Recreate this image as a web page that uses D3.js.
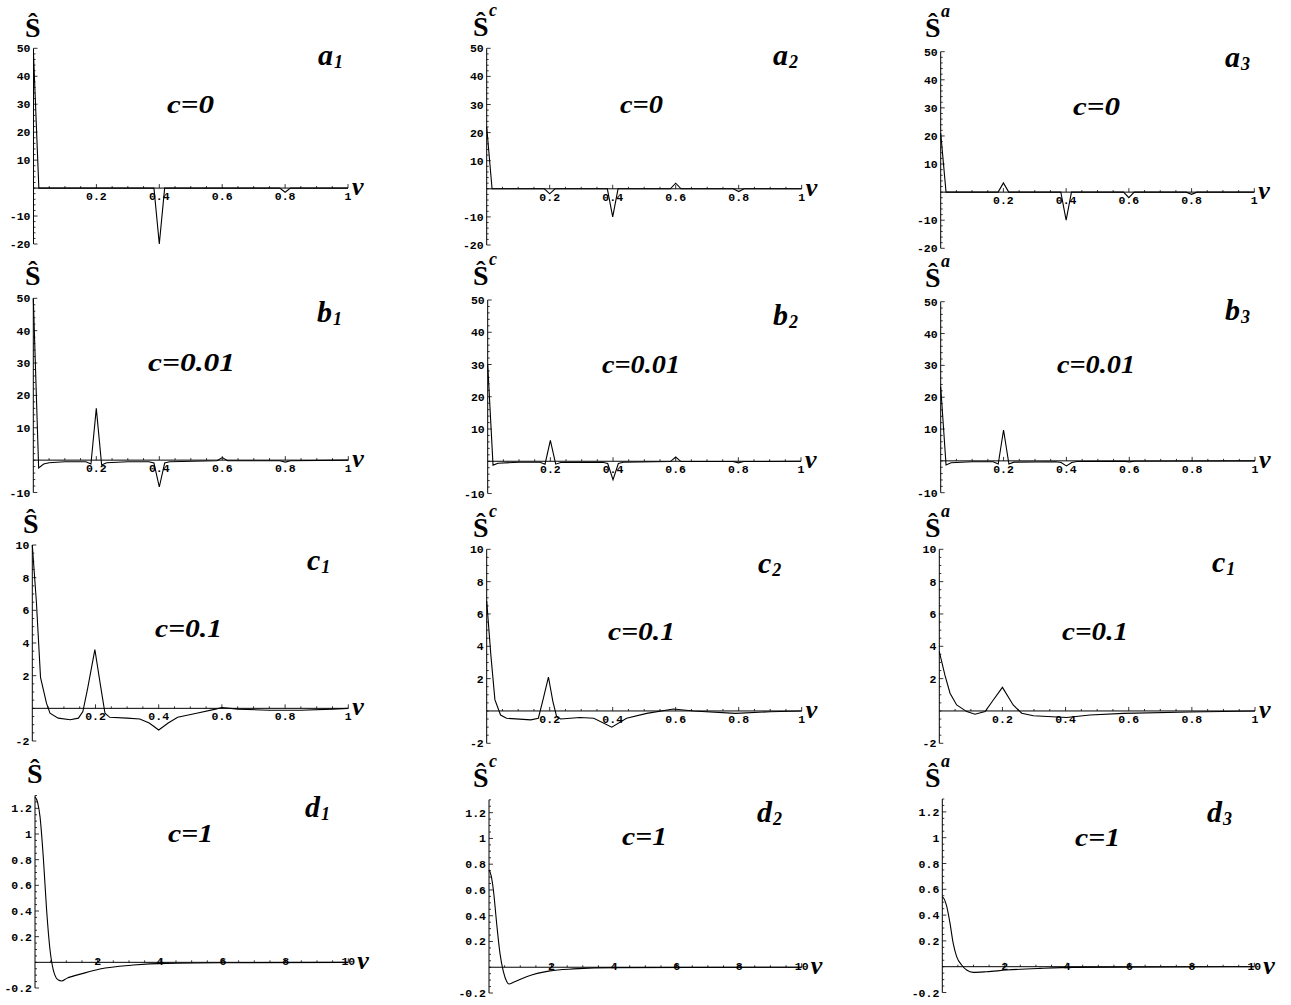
<!DOCTYPE html>
<html>
<head>
<meta charset="utf-8">
<script src="https://cdn.jsdelivr.net/npm/d3@7"></script>
<style>
  body { margin: 0; background: #fff; }
  text { fill: #000; }
</style>
</head>
<body>
<svg id="fig" width="1291" height="1005"></svg>
<script>
'use strict'

// ---- values: [nu, S] ----
var sA1 = [[0,48],[0.017,0],[0.383,0],[0.4,-20],[0.417,0],[0.783,0],[0.8,-1.5],[0.817,0],[1,0]]
var sA2 = [[0,22],[0.017,0],[0.183,0],[0.2,-1.8],[0.217,0],[0.383,0],[0.4,-10],[0.417,0],[0.583,0],[0.6,2],[0.617,0],[0.783,0],[0.8,-1],[0.817,0],[1,0]]
var sA3 = [[0,21],[0.017,0],[0.183,0],[0.2,3.3],[0.217,0],[0.383,0],[0.4,-10],[0.417,0],[0.583,0],[0.6,-2],[0.617,0],[0.783,0],[0.8,-0.8],[0.817,0],[1,0]]

var sB1 = [[0,50],[0.017,-2.4],[0.033,-1.2],[0.05,-0.8],[0.1,-0.5],[0.167,-0.5],[0.183,-1.2],[0.2,16],[0.217,-1.5],[0.233,-0.8],[0.3,-0.5],[0.367,-0.5],[0.383,-0.9],[0.4,-8.3],[0.417,-0.9],[0.433,-0.5],[0.583,-0.2],[0.6,0.8],[0.617,-0.2],[0.783,-0.2],[0.8,-0.6],[0.817,-0.2],[1,0]]
var sB2 = [[0,30],[0.017,-1.2],[0.033,-0.6],[0.1,-0.3],[0.167,-0.3],[0.183,-0.9],[0.2,6.5],[0.217,-0.9],[0.233,-0.4],[0.367,-0.3],[0.383,-0.7],[0.4,-5.7],[0.417,-0.7],[0.433,-0.3],[0.583,-0.1],[0.6,1.3],[0.617,-0.1],[0.783,-0.1],[0.8,-0.5],[0.817,-0.1],[1,0]]
var sB3 = [[0,23.3],[0.017,-1.3],[0.033,-0.6],[0.1,-0.3],[0.167,-0.3],[0.183,-1],[0.2,9.7],[0.217,-1],[0.233,-0.4],[0.367,-0.3],[0.383,-0.5],[0.4,-1.6],[0.417,-0.5],[0.433,-0.2],[0.583,-0.1],[0.6,-0.3],[0.617,-0.1],[1,0]]

var sC1 = [[0,10],[0.013,6.5],[0.026,1.9],[0.045,0.3],[0.056,-0.3],[0.082,-0.6],[0.12,-0.7],[0.146,-0.6],[0.16,-0.2],[0.175,1.2],[0.198,3.6],[0.215,1.5],[0.23,-0.3],[0.245,-0.55],[0.3,-0.6],[0.34,-0.65],[0.37,-0.9],[0.4,-1.33],[0.43,-0.9],[0.46,-0.55],[0.52,-0.3],[0.58,-0.05],[0.6,0.05],[0.65,-0.05],[0.75,-0.12],[0.85,-0.12],[0.95,-0.05],[1,0]]
var sC2 = [[0,6.8],[0.013,3.5],[0.026,0.7],[0.044,-0.25],[0.063,-0.45],[0.14,-0.55],[0.164,-0.45],[0.18,0.8],[0.196,2.1],[0.21,0.6],[0.222,-0.35],[0.235,-0.5],[0.296,-0.4],[0.34,-0.45],[0.397,-1.0],[0.444,-0.45],[0.508,-0.15],[0.593,0.12],[0.656,0],[0.79,-0.15],[0.9,-0.05],[1,0]]
var sC3 = [[0,3.67],[0.018,2.2],[0.034,1.1],[0.055,0.37],[0.087,-0.04],[0.113,-0.2],[0.145,-0.04],[0.171,0.68],[0.2,1.46],[0.234,0.37],[0.261,-0.14],[0.298,-0.3],[0.403,-0.4],[0.477,-0.25],[0.583,-0.15],[0.794,-0.06],[1,0]]

var sD1 = [[0,1.29],[0.08,1.25],[0.16,1.135],[0.27,0.8],[0.37,0.41],[0.48,0.096],[0.585,-0.06],[0.745,-0.138],[0.85,-0.145],[1.01,-0.125],[1.54,-0.086],[2.07,-0.052],[3.14,-0.021],[4.2,-0.008],[6.33,-0.003],[10,0]]
var sD2 = [[0,0.756],[0.07,0.71],[0.14,0.6],[0.245,0.34],[0.35,0.11],[0.46,-0.034],[0.565,-0.11],[0.64,-0.13],[0.78,-0.117],[1.2,-0.073],[1.95,-0.028],[2.7,-0.013],[4.08,-0.003],[10,0]]
var sD3 = [[0,0.54],[0.07,0.52],[0.14,0.47],[0.245,0.34],[0.35,0.18],[0.46,0.078],[0.62,0.013],[0.78,-0.026],[0.99,-0.044],[1.42,-0.039],[2.06,-0.026],[3.13,-0.013],[4.2,-0.005],[10,0]]

// ---- tick values and labels ----
var xTicksUnit = [0.2, 0.4, 0.6, 0.8, 1]
var xLabelsUnit = ['0.2', '0.4', '0.6', '0.8', '1']
var xTicksTen = [2, 4, 6, 8, 10]
var xLabelsTen = ['2', '4', '6', '8', '10']
var yTicksA = [-20, -10, 10, 20, 30, 40, 50]
var yTicksB = [-10, 10, 20, 30, 40, 50]
var yTicksC = [-2, 2, 4, 6, 8, 10]
var yTicksD = [-0.2, 0.2, 0.4, 0.6, 0.8, 1, 1.2]
var yLabelsD = ['-0.2', '0.2', '0.4', '0.6', '0.8', '1', '1.2']

var cLabels = ['c=0', 'c=0.01', 'c=0.1', 'c=1']
var sups = ['', 'c', 'a']

// ---- row settings ----
var rows = {
  a: { yd: [-20, 50], xmax: 1, yt: yTicksA, yl: yTicksA.map(String), ymin: 2, xt: xTicksUnit, xl: xLabelsUnit, xmin: 0.05, c: cLabels[0], curve: d3.curveLinear },
  b: { yd: [-10, 50], xmax: 1, yt: yTicksB, yl: yTicksB.map(String), ymin: 2, xt: xTicksUnit, xl: xLabelsUnit, xmin: 0.05, c: cLabels[1], curve: d3.curveLinear },
  c: { yd: [-2, 10], xmax: 1, yt: yTicksC, yl: yTicksC.map(String), ymin: 0.5, xt: xTicksUnit, xl: xLabelsUnit, xmin: 0.05, c: cLabels[2], curve: d3.curveLinear },
  d: { yd: [-0.2, 1.3], xmax: 10, yt: yTicksD, yl: yLabelsD, ymin: 0.05, xt: xTicksTen, xl: xLabelsTen, xmin: 0.5, c: cLabels[3], curve: d3.curveMonotoneX }
}

// ---- panel placement (pixel boxes, text anchors) ----
var panels = [
  { r: 'a', s: sA1, col: 0, px: [33.5, 348],   py: [244, 48.3],   let: ['a','1'], lp: [318, 65],   cp: [167, 113, 47],  sp: [25, 37] },
  { r: 'a', s: sA2, col: 1, px: [486.7, 801.7], py: [245, 48.3],  let: ['a','2'], lp: [773, 65],   cp: [620, 113, 43],  sp: [473, 36] },
  { r: 'a', s: sA3, col: 2, px: [940.7, 1254.3], py: [248.3, 51.7], let: ['a','3'], lp: [1225, 67], cp: [1073, 115, 47], sp: [925, 37] },
  { r: 'b', s: sB1, col: 0, px: [33.3, 348.3], py: [492.5, 298.3], let: ['b','1'], lp: [317, 322],  cp: [148, 371, 87],  sp: [25, 285] },
  { r: 'b', s: sB2, col: 1, px: [487.7, 801],  py: [493.5, 300],   let: ['b','2'], lp: [773, 325],  cp: [602, 373, 78],  sp: [473, 285] },
  { r: 'b', s: sB3, col: 2, px: [940.7, 1255], py: [492.7, 301.7], let: ['b','3'], lp: [1225, 320], cp: [1057, 373, 78], sp: [925, 287] },
  { r: 'c', s: sC1, col: 0, px: [32.3, 348.3], py: [741, 545],     let: ['c','1'], lp: [307, 570],  cp: [155, 637, 67],  sp: [23, 533] },
  { r: 'c', s: sC2, col: 1, px: [486.7, 801.7], py: [743.3, 549.3], let: ['c','2'], lp: [758, 573], cp: [608, 640, 67],  sp: [473, 537] },
  { r: 'c', s: sC3, col: 2, px: [939.3, 1255], py: [743.3, 549.3], let: ['c','1'], lp: [1212, 572], cp: [1062, 640, 66], sp: [925, 537] },
  { r: 'd', s: sD1, col: 0, px: [35, 348.3],   py: [988, 795.5],   let: ['d','1'], lp: [305, 817],  cp: [168, 842, 45],  sp: [27, 783] },
  { r: 'd', s: sD2, col: 1, px: [489, 801.7],  py: [993, 799.8],   let: ['d','2'], lp: [757, 822],  cp: [622, 845, 45],  sp: [473, 787] },
  { r: 'd', s: sD3, col: 2, px: [942.3, 1254.3], py: [992.5, 799], let: ['d','3'], lp: [1207, 822], cp: [1075, 846, 45], sp: [925, 787] }
]

var svg = d3.select('#fig')
  , serif = "'Liberation Serif', 'Times New Roman', serif"
  , mono = "'Liberation Mono', 'Courier New', monospace"

panels.forEach(function(p){
  var R = rows[p.r]
    , x = d3.scaleLinear().domain([0, R.xmax]).range(p.px)
    , y = d3.scaleLinear().domain(R.yd).range(p.py)
    , g = svg.append('g')
    , y0 = y(0), x0 = x(0)
    , eps = 1e-9
    , isMajor = function(list, d){ return list.some(function(t){ return Math.abs(t - d) < 1e-6 }) }

  // axes lines
  g.append('line').attr('x1', x0).attr('x2', x(R.xmax)).attr('y1', y0).attr('y2', y0)
    .attr('stroke', '#000').attr('stroke-width', 1)
  g.append('line').attr('x1', x0).attr('x2', x0).attr('y1', y(R.yd[0])).attr('y2', y(R.yd[1]))
    .attr('stroke', '#000').attr('stroke-width', 1)

  // minor + major ticks on x axis (pointing up)
  g.selectAll('.xm').data(d3.range(R.xmin, R.xmax + eps, R.xmin)).enter().append('line')
    .attr('x1', function(d){ return x(d) }).attr('x2', function(d){ return x(d) })
    .attr('y1', y0).attr('y2', function(d){ return isMajor(R.xt, d) ? y0 - 4 : y0 - 2 })
    .attr('stroke', '#000').attr('stroke-width', 0.8)

  // minor + major ticks on y axis (pointing right)
  g.selectAll('.ym').data(d3.range(R.yd[0], R.yd[1] + eps, R.ymin)).enter().append('line')
    .attr('y1', function(d){ return y(d) }).attr('y2', function(d){ return y(d) })
    .attr('x1', x0).attr('x2', function(d){ return isMajor(R.yt, d) ? x0 + 4 : x0 + 2 })
    .attr('stroke', '#000').attr('stroke-width', 0.8)

  // tick labels
  var xlBase = p.r === 'd' ? y0 + 3 : y0 + 12
  g.selectAll('.xl').data(R.xt).enter().append('text')
    .attr('x', function(d){ return x(d) }).attr('y', xlBase)
    .attr('text-anchor', 'middle')
    .style('font', 'bold 11.5px ' + mono)
    .text(function(d, i){ return R.xl[i] })
  g.selectAll('.yl').data(R.yt).enter().append('text')
    .attr('x', x0 - 3).attr('y', function(d){ return y(d) + 4 })
    .attr('text-anchor', 'end')
    .style('font', 'bold 11.5px ' + mono)
    .text(function(d, i){ return R.yl[i] })

  // curve
  var line = d3.line().x(function(d){ return x(d[0]) }).y(function(d){ return y(d[1]) }).curve(R.curve)
  g.append('path').datum(p.s).attr('d', line)
    .attr('fill', 'none').attr('stroke', '#000').attr('stroke-width', 1.1)

  // y label S-hat with superscript
  g.append('text').attr('x', p.sp[0]).attr('y', p.sp[1])
    .style('font', 'bold 28px ' + serif).text('\u015C')
  if (sups[p.col]) {
    g.append('text').attr('x', p.sp[0] + 16).attr('y', p.sp[1] - 20)
      .style('font', 'italic bold 18px ' + serif).text(sups[p.col])
  }

  // nu at end of x axis
  g.append('text').attr('x', x(R.xmax) + (p.r === 'd' ? 9 : 4)).attr('y', y0 + 7)
    .style('font', 'italic bold 26px ' + serif).text('\u03BD')

  // panel letter with subscript
  var lt = g.append('text').attr('x', p.lp[0]).attr('y', p.lp[1])
    .style('font', 'italic bold 30px ' + serif)
  lt.append('tspan').text(p.let[0])
  lt.append('tspan').attr('dx', 1).attr('dy', 3).style('font-size', '18px').text(p.let[1])

  // c = value
  g.append('text').attr('x', p.cp[0]).attr('y', p.cp[1])
    .attr('textLength', p.cp[2]).attr('lengthAdjust', 'spacingAndGlyphs')
    .style('font', 'italic bold 26px ' + serif).text(R.c)
})
</script>
</body>
</html>
